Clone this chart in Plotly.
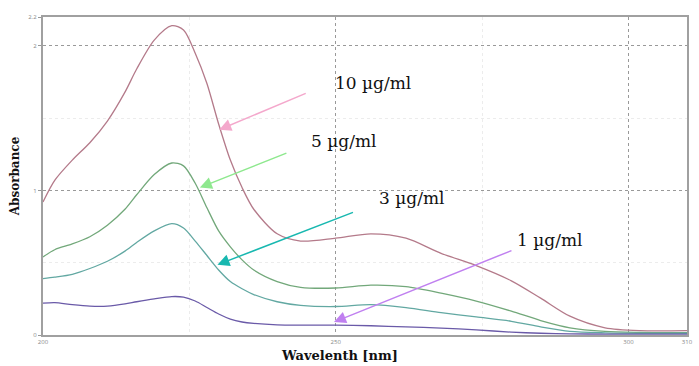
import plotly.graph_objects as go

wavelength = [200, 202, 205, 208, 211, 214, 216, 219, 222, 224, 226, 228, 230, 232, 234, 236,
              240, 244, 250, 256, 262, 268, 274, 280, 285, 290, 296, 302, 310]
abs_10 = [0.92, 1.07, 1.21, 1.33, 1.48, 1.68, 1.84, 2.04, 2.14, 2.11, 1.95, 1.74, 1.46, 1.21, 1.02, 0.87,
          0.70, 0.65, 0.67, 0.70, 0.67, 0.565, 0.48, 0.375, 0.255, 0.13, 0.05, 0.03, 0.03]
abs_5 = [0.54, 0.59, 0.63, 0.68, 0.76, 0.87, 0.97, 1.11, 1.19, 1.17, 1.05, 0.88, 0.72, 0.61, 0.52, 0.45,
         0.37, 0.33, 0.325, 0.345, 0.335, 0.29, 0.235, 0.165, 0.10, 0.05, 0.025, 0.018, 0.016]
abs_3 = [0.39, 0.40, 0.42, 0.46, 0.51, 0.58, 0.64, 0.72, 0.77, 0.74, 0.65, 0.55, 0.45, 0.37, 0.32, 0.28,
         0.23, 0.205, 0.197, 0.21, 0.19, 0.155, 0.125, 0.095, 0.056, 0.025, 0.015, 0.012, 0.012]
abs_1 = [0.22, 0.224, 0.21, 0.20, 0.20, 0.215, 0.23, 0.25, 0.266, 0.262, 0.235, 0.19, 0.145, 0.11, 0.09, 0.08,
         0.07, 0.068, 0.068, 0.064, 0.056, 0.048, 0.035, 0.02, 0.012, 0.008, 0.006, 0.006, 0.006]

series_names = ["10 µg/ml", "5 µg/ml", "3 µg/ml", "1 µg/ml"]
series_vals = [abs_10, abs_5, abs_3, abs_1]
line_colors = ["#b47a8a", "#72a87a", "#62a8a2", "#6a5aa8"]
arrow_colors = ["#f4a8cc", "#8ee88e", "#18b8b0", "#c080f0"]
# arrow head positions (data) and label positions (data)
arrow_heads = [(230.1, 1.42), (226.8, 1.02), (229.8, 0.486), (249.7, 0.09)]
arrow_tails_px = [(88, -37), (88, -35), (137, -53), (179, -72)]
label_pos = [(256.4, 1.745), (251.3, 1.34), (263.0, 0.945), (286.5, 0.66)]

x_ticks = [200, 250, 300, 310]
y_ticks = [0, 1, 2, 2.2]

fig = go.Figure()
for name, vals, col in zip(series_names, series_vals, line_colors):
    fig.add_trace(go.Scatter(x=wavelength, y=vals, mode="lines", name=name,
                             line=dict(color=col, width=1.3, shape="spline", smoothing=0.8)))

annotations = []
for name, (hx, hy), (ax, ay), (lx, ly), ac in zip(series_names, arrow_heads, arrow_tails_px, label_pos, arrow_colors):
    annotations.append(dict(x=hx, y=hy, ax=ax, ay=ay, xref="x", yref="y", text="",
                            showarrow=True, arrowhead=2, arrowsize=1.6, arrowwidth=1.5,
                            arrowcolor=ac))
    annotations.append(dict(x=lx, y=ly, xref="x", yref="y", text=name, showarrow=False,
                            font=dict(family="DejaVu Serif", size=17, color="#111")))

annotations.append(dict(x=0.46, y=-0.063, xref="paper", yref="paper", yanchor="middle",
                        text="<b>Wavelenth [nm]</b>", showarrow=False,
                        font=dict(family="DejaVu Serif", size=13, color="#111")))
annotations.append(dict(x=-0.043, y=0.5, xref="paper", yref="paper", xanchor="center",
                        yanchor="middle",
                        text="<b>Absorbance</b>", textangle=-90, showarrow=False,
                        font=dict(family="DejaVu Serif", size=12, color="#111")))

fig.update_layout(
    width=699, height=366,
    margin=dict(l=43, r=6, t=17, b=31),
    paper_bgcolor="white", plot_bgcolor="white",
    showlegend=False,
    annotations=annotations,
    xaxis=dict(range=[200, 310], tickvals=x_ticks, ticktext=[str(v) for v in x_ticks],
               tickfont=dict(size=6, color="#888"), showline=True, mirror=True,
               linecolor="#a0a0a0", linewidth=2, showgrid=True, gridcolor="#999",
               griddash="dot", gridwidth=1, zeroline=False, ticks="", ticklen=2,
               minor=dict(tickvals=[225, 275], showgrid=True, gridcolor="#ececec", gridwidth=1)),
    yaxis=dict(range=[0, 2.2], tickvals=y_ticks, ticktext=["0", "1", "2", "2.2"],
               tickfont=dict(size=6, color="#888"), showline=True, mirror=True,
               linecolor="#a0a0a0", linewidth=2, showgrid=True, gridcolor="#999",
               griddash="dot", gridwidth=1, zeroline=False, ticks="outside", ticklen=3,
               tickcolor="#999",
               minor=dict(tickvals=[0.5, 1.5], showgrid=True, gridcolor="#ececec", gridwidth=1)),
)

fig.write_html("out.html")
